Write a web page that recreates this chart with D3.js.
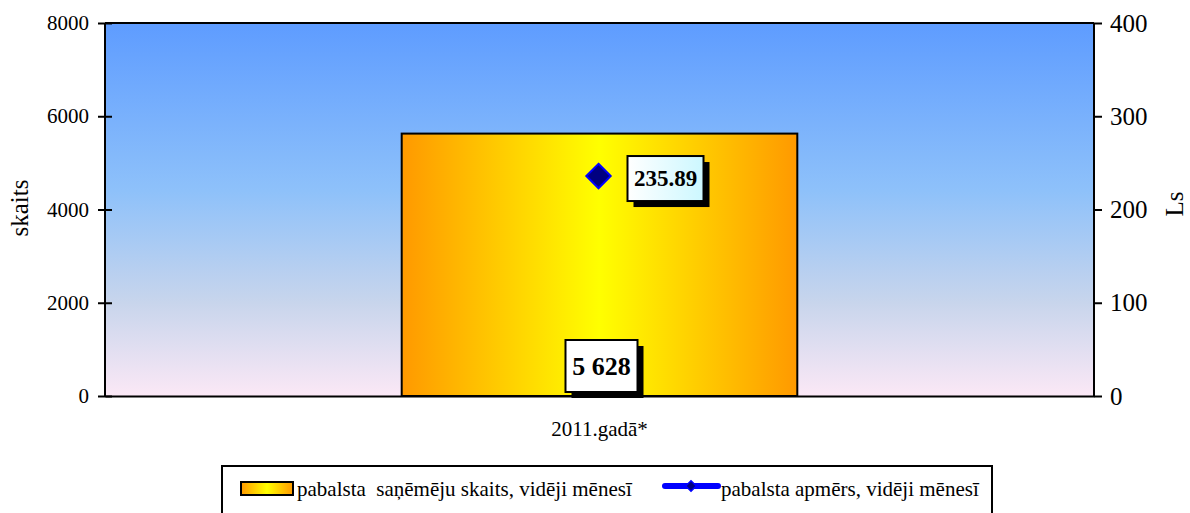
<!DOCTYPE html>
<html><head><meta charset="utf-8">
<script src="https://cdn.jsdelivr.net/npm/d3@7"></script>
<style>body{margin:0;background:#fff}svg{display:block}svg text{font-family:"Liberation Serif","Times New Roman",serif;fill:#000}</style>
</head><body><svg id="c" width="1190" height="513"></svg>
<script>
const categories = ["2011.gadā*"];
const countValues = [5628];
const amountValues = [235.89];
const countLabels = ["5 628"];
const amountLabels = ["235.89"];
const leftTicks = [0, 2000, 4000, 6000, 8000];
const rightTicks = [0, 100, 200, 300, 400];
const seriesNames = ["pabalsta  saņēmēju skaits, vidēji mēnesī", "pabalsta apmērs, vidēji mēnesī"];

const svg = d3.select("#c");
const m = {l:105, r:1094, t:23, b:396};
const defs = svg.append("defs");
const bg = defs.append("linearGradient").attr("id","bg").attr("x1",0).attr("y1",0).attr("x2",0).attr("y2",1);
[[0,"#5e9cff"],[0.45,"#8ec1fa"],[0.75,"#c8d5ec"],[1,"#fbe8f6"]].forEach(s=>bg.append("stop").attr("offset",s[0]).attr("stop-color",s[1]));
const bar = defs.append("linearGradient").attr("id","bar").attr("x1",0).attr("y1",0).attr("x2",1).attr("y2",0);
[[0,"#ff9900"],[0.5,"#ffff00"],[1,"#ff9900"]].forEach(s=>bar.append("stop").attr("offset",s[0]).attr("stop-color",s[1]));
const lab = defs.append("linearGradient").attr("id","lab").attr("x1",0).attr("y1",0).attr("x2",1).attr("y2",0);
[[0,"#ffffff"],[1,"#ccf7ff"]].forEach(s=>lab.append("stop").attr("offset",s[0]).attr("stop-color",s[1]));

const x = d3.scaleBand().domain(categories).range([m.l, m.r]).paddingInner(0).paddingOuter(0);
const yL = d3.scaleLinear().domain([0,8000]).range([m.b, m.t]);
const yR = d3.scaleLinear().domain([0,400]).range([m.b, m.t]);

svg.append("rect").attr("x",m.l).attr("y",m.t).attr("width",m.r-m.l).attr("height",m.b-m.t).attr("fill","url(#bg)");

// bars
const bw = x.bandwidth()*0.4;
svg.selectAll(".bar").data(categories).join("rect")
  .attr("x",d=>x(d)+x.bandwidth()/2-bw/2).attr("width",bw)
  .attr("y",(d,i)=>yL(countValues[i])).attr("height",(d,i)=>yL(0)-yL(countValues[i]))
  .attr("fill","url(#bar)").attr("stroke","#000").attr("stroke-width",2);

// frame top
svg.append("line").attr("x1",m.l).attr("x2",m.r).attr("y1",m.t).attr("y2",m.t).attr("stroke","#000").attr("stroke-width",2);

// axes
const axL = svg.append("g").attr("transform",`translate(${m.l},0)`)
  .call(d3.axisLeft(yL).tickValues(leftTicks).tickSize(7).tickPadding(9).tickFormat(d3.format("d")));
axL.selectAll(".tick line").attr("x2",7).attr("x1",-7);
const axR = svg.append("g").attr("transform",`translate(${m.r},0)`)
  .call(d3.axisRight(yR).tickValues(rightTicks).tickSize(8).tickPadding(8).tickFormat(d3.format("d")));
[axL, axR].forEach(a=>{
  a.attr("font-family",null);
  a.select(".domain").attr("stroke","#000").attr("stroke-width",2).attr("d",`M0,${m.t}V${m.b}`);
  a.selectAll(".tick line").attr("stroke","#000").attr("stroke-width",2);
});
axL.attr("font-size",21);
axR.attr("font-size",25);
const axB = svg.append("g").attr("transform",`translate(0,${m.b})`).call(d3.axisBottom(x).tickSize(0).tickPadding(25));
axB.attr("font-family",null).attr("font-size",21);
axB.select(".domain").attr("stroke","#000").attr("stroke-width",2);

svg.append("text").attr("transform",`translate(28,208) rotate(-90)`).attr("text-anchor","middle").attr("font-size",25).text("skaits");
svg.append("text").attr("transform",`translate(1183,204) rotate(-90)`).attr("text-anchor","middle").attr("font-size",25).text("Ls");

// diamond points
const cx = d=>x(d)+x.bandwidth()/2-1;
svg.selectAll(".pt").data(categories).join("path")
  .attr("d",d3.symbol().type(d3.symbolDiamond2).size(380))
  .attr("transform",(d,i)=>`translate(${cx(d)},${yR(amountValues[i])})`)
  .attr("fill","#000080").attr("stroke","#0000ff").attr("stroke-width",2);

function labelBox(xc, yc, w, h, txt, fill, fs){
  const g = svg.append("g");
  g.append("rect").attr("x",xc-w/2+6).attr("y",yc-h/2+6).attr("width",w).attr("height",h).attr("fill","#000");
  g.append("rect").attr("x",xc-w/2).attr("y",yc-h/2).attr("width",w).attr("height",h).attr("fill",fill).attr("stroke","#000").attr("stroke-width",2);
  g.append("text").attr("x",xc).attr("y",yc+fs*0.34).attr("text-anchor","middle").attr("font-size",fs).attr("font-weight","bold").text(txt);
}
categories.forEach((d,i)=>{
  labelBox(cx(d)+67, yR(amountValues[i])+2.5, 76, 45, amountLabels[i], "url(#lab)", 23);
  labelBox(cx(d)+3, 366, 72, 52, countLabels[i], "#fff", 26);
});

// legend
svg.append("rect").attr("x",222).attr("y",466).attr("width",770).attr("height",60).attr("fill","#fff").attr("stroke","#000").attr("stroke-width",2);
svg.append("rect").attr("x",241).attr("y",482).attr("width",52).attr("height",13).attr("fill","url(#bar)").attr("stroke","#000").attr("stroke-width",2);
svg.append("text").attr("x",297).attr("y",496).attr("font-size",21).style("white-space","pre").text(seriesNames[0]);
svg.append("line").attr("x1",665).attr("x2",718).attr("y1",486).attr("y2",486).attr("stroke","#0000ff").attr("stroke-width",6).attr("stroke-linecap","round");
svg.append("path").attr("d",d3.symbol().type(d3.symbolDiamond2).size(70)).attr("transform","translate(691,486)").attr("fill","#000080").attr("stroke","#0000ff").attr("stroke-width",1.5);
svg.append("text").attr("x",721).attr("y",496).attr("font-size",21).text(seriesNames[1]);
</script></body></html>
